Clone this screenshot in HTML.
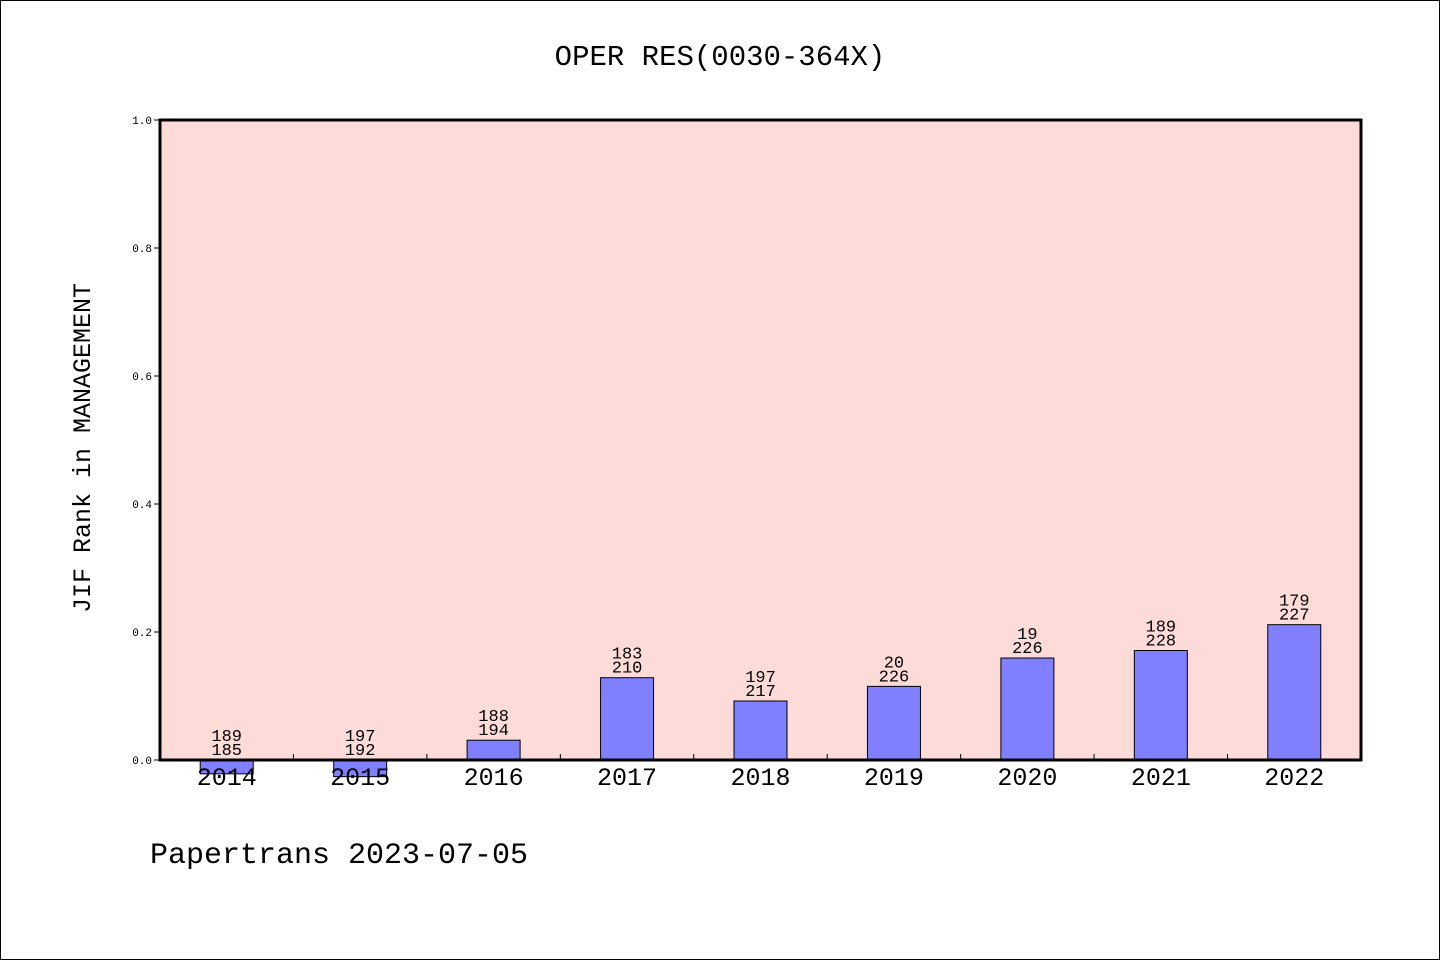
<!DOCTYPE html>
<html><head><meta charset="utf-8"><style>
body{margin:0;background:#fff}
svg{display:block}
text{font-family:"Liberation Mono","DejaVu Sans Mono",monospace;fill:#000}
</style></head><body>
<svg width="1440" height="960" viewBox="0 0 1440 960">
<rect x="0.5" y="0.5" width="1439" height="959" fill="#fff" stroke="#000"/>
<text x="720" y="65" font-size="29" text-anchor="middle">OPER RES(0030-364X)</text>
<rect x="160" y="120" width="1201" height="640" fill="#fddbd8"/>
<g id="bars"></g>
<g id="ticks"></g>
<rect x="160" y="120" width="1201" height="640" fill="none" stroke="#000" stroke-width="3"/>
<text transform="translate(90,448) rotate(-90)" font-size="25" text-anchor="middle">JIF Rank in MANAGEMENT</text>
<text x="150" y="863" font-size="30">Papertrans 2023-07-05</text>
</svg>
<script>
const years=["2014","2015","2016","2017","2018","2019","2020","2021","2022"];
const ranks=[189,197,188,183,197,200,190,189,179];
const rankLabels=["189","197","188","183","197","20","19","189","179"];
const totals=[185,192,194,210,217,226,226,228,227];
const yTicks=[0,0.2,0.4,0.6,0.8,1.0];
const NS="http://www.w3.org/2000/svg";
const X0=160,W=1201,Y0=760,H=640;
const step=W/years.length;
const xc=i=>X0+step*(i+0.5);
const y=v=>Y0-v*H;
function mk(t,a){const e=document.createElementNS(NS,t);for(const k in a)e.setAttribute(k,a[k]);return e;}
const bars=document.getElementById('bars'),ticks=document.getElementById('ticks');
years.forEach((yr,i)=>{
  const v=1-ranks[i]/totals[i];
  const top=Math.min(y(v),y(0)),h=Math.abs(y(v)-y(0));
  const r=mk('rect',{x:xc(i)-26.5,y:top,width:53,height:h,fill:'#8080ff',stroke:'#000','stroke-width':1});
  
  
  bars.appendChild(r);
  const lt=Math.min(y(v),y(0));
  const t1=mk('text',{x:xc(i),y:lt-19,'font-size':17,'text-anchor':'middle'});t1.textContent=rankLabels[i];
  
  
  bars.appendChild(t1);
  const t2=mk('text',{x:xc(i),y:lt-5,'font-size':17,'text-anchor':'middle'});t2.textContent=totals[i];
  
  
  bars.appendChild(t2);
  const xl=mk('text',{x:xc(i),y:785,'font-size':25,'text-anchor':'middle'});xl.textContent=yr;
  
  
  ticks.appendChild(xl);
  if(i>0){const tk=mk('line',{x1:X0+step*i,x2:X0+step*i,y1:Y0,y2:Y0-6,stroke:'#000'});
  
  
  ticks.appendChild(tk);}
});
yTicks.forEach(v=>{
  const tk=mk('line',{x1:X0-6,x2:X0,y1:y(v),y2:y(v),stroke:'#000'});
  
  
  ticks.appendChild(tk);
  const tl=mk('text',{x:X0-8,y:y(v)+4,'font-size':11,'text-anchor':'end'});tl.textContent=v.toFixed(1);
  
  
  ticks.appendChild(tl);
});
</script>
</body></html>
